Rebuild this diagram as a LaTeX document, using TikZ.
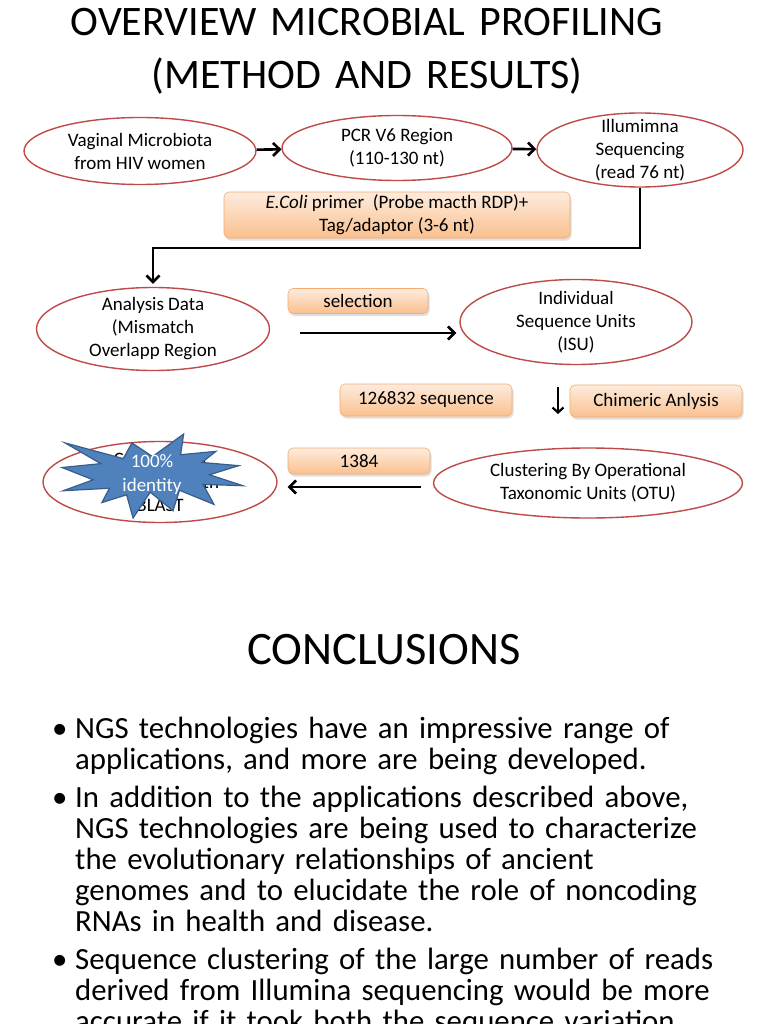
\documentclass[tikz,border=0pt]{standalone}
\usepackage{fontspec}
\setmainfont{Carlito}
\usetikzlibrary{arrows.meta, shapes.geometric, shadows, calc}
\definecolor{ovalR}{RGB}{190,75,72}
\definecolor{boxTop}{RGB}{253,236,222}
\definecolor{boxBot}{RGB}{250,192,142}
\definecolor{boxEdge}{RGB}{246,170,110}
\definecolor{starB}{RGB}{79,129,189}
\definecolor{starEdge}{RGB}{56,93,138}

\begin{document}
\begin{tikzpicture}[x=1pt, y=-1pt,
  oval/.style={ellipse, draw=ovalR, line width=1.4pt, fill=white, inner xsep=0pt, inner ysep=-8pt,
    align=center, font=\fontsize{19}{23}\selectfont},
  tag/.style={rounded corners=5pt, draw=boxEdge, line width=0.6pt, top color=boxTop, bottom color=boxBot,
    inner sep=0pt, align=center, font=\fontsize{19}{23}\selectfont,
    drop shadow={shadow xshift=1.5pt, shadow yshift=-2.5pt, opacity=0.25}},
  flow/.style={line width=2.6pt, -{Straight Barb[length=6.5pt, width=13pt]}},
  bul/.style={anchor=base west, inner sep=0pt, font=\fontsize{30.8}{31}\selectfont},
  para/.style={bul, text width=700pt, align=left}]
\useasboundingbox (0,0) rectangle (768,1024);
\clip (0,0) rectangle (768,1024);
\fill[white] (0,0) rectangle (768,1024);
% title
\node[anchor=base, inner sep=0pt, text width=760pt, align=center, font=\fontsize{42}{53}\selectfont] (title) at (367,36)
  {OVERVIEW MICROBIAL PROFILING\\(METHOD AND RESULTS)};
% first row
\node[oval, minimum width=232pt, minimum height=67pt] (vag) at (140,151) {Vaginal Microbiota\\from HIV women};
\node[oval, minimum width=230pt, minimum height=65pt] (pcr) at (397,148) {PCR V6 Region\\(110-130 nt)};
\node[oval, minimum width=206pt, minimum height=74pt] (ill) at (640,150) {Illumimna\\Sequencing\\(read 76 nt)};
\draw[flow] (vag) -- (pcr);
\draw[flow] (pcr) -- (ill);
\node[tag, minimum width=346pt, minimum height=46pt] (primer) at (397,215)
  {\textit{E.Coli} primer\ \ (Probe macth RDP)+\\Tag/adaptor (3-6 nt)};
% second row
\node[oval, minimum width=233pt, minimum height=83pt] (ana) at (153,329) {Analysis Data\\(Mismatch\\Overlapp Region};
\node[oval, minimum width=232pt, minimum height=85pt] (isu) at (576,322) {Individual\\Sequence Units\\(ISU)};
% back to the left
\coordinate (bend) at (153,248);
\draw[flow] (ill.south) |- (bend) -- ([yshift=3pt]ana.north);
\node[tag, minimum width=140pt, minimum height=25pt] (sel) at (358,301) {selection};
\coordinate (selstart) at (300,333);
\draw[flow] (selstart) -- ([xshift=-3pt]selstart -| isu.west);
\node[tag, minimum width=172pt, minimum height=32pt] (seq) at (426,400) {126832 sequence};
\node[tag, minimum width=172pt, minimum height=32pt] (chim) at (656,401) {Chimeric Anlysis};
\coordinate (chtop) at (558,387);
\coordinate (chbot) at (558,414);
\draw[line width=2.2pt, -{Straight Barb[length=5pt, width=11pt]}] (chtop) -- (chbot);
% third row
\node[oval, minimum width=234pt, minimum height=81pt] (blast) at (160,482) {Comparison\\Alignment with\\BLAST};
\node[oval, minimum width=309pt, minimum height=70pt] (otu) at (588,483) {Clustering By Operational\\Taxonomic Units (OTU)};
\node[tag, minimum width=142pt, minimum height=26pt] (n1384) at (359,461) {1384};
\coordinate (otustart) at (421,487);
\draw[flow] (otustart) -- ([xshift=10pt]otustart -| blast.east);
% burst over the blast oval
\begin{scope}[shift={(62,434)}, x=0.0083796pt, y=-0.0038889pt]
\filldraw[fill=starB, draw=starEdge, line width=1.2pt] plot coordinates {(10800,5800) (14522,0) (14155,5325)
  (18380,4457) (16702,7315) (21097,8137) (17607,10475) (21600,13290) (16837,12942) (18145,18095)
  (14020,14457) (13247,19737) (10532,14935) (8485,21600) (7715,15627) (4762,17617) (5667,13937)
  (135,14587) (3722,11775) (0,8615) (4627,7617) (370,2295) (7312,6320) (8352,2295)} -- cycle;
\end{scope}
\node[text=white, align=center, inner sep=0pt, font=\fontsize{19}{24}\selectfont] (burst) at (152,475) {100\%\\identity};
% conclusions
\node[anchor=base, inner sep=0pt, font=\fontsize{46.5}{50}\selectfont] (concl) at (384,664) {CONCLUSIONS};
\node[bul] (d1) at (52,738) {•};
\node[para] (p1) at (75,738) {NGS technologies have an impressive range of\\applications, and more are being developed.};
\node[bul] (d2) at (52,807) {•};
\node[para] (p2) at (75,807) {In addition to the applications described above,\\NGS technologies are being used to characterize\\the evolutionary relationships of ancient\\genomes and to elucidate the role of noncoding\\RNAs in health and disease.};
\node[bul] (d3) at (52,969) {•};
\node[para] (p3) at (75,969) {Sequence clustering of the large number of reads\\derived from Illumina sequencing would be more\\accurate if it took both the sequence variation};
\end{tikzpicture}
\end{document}
